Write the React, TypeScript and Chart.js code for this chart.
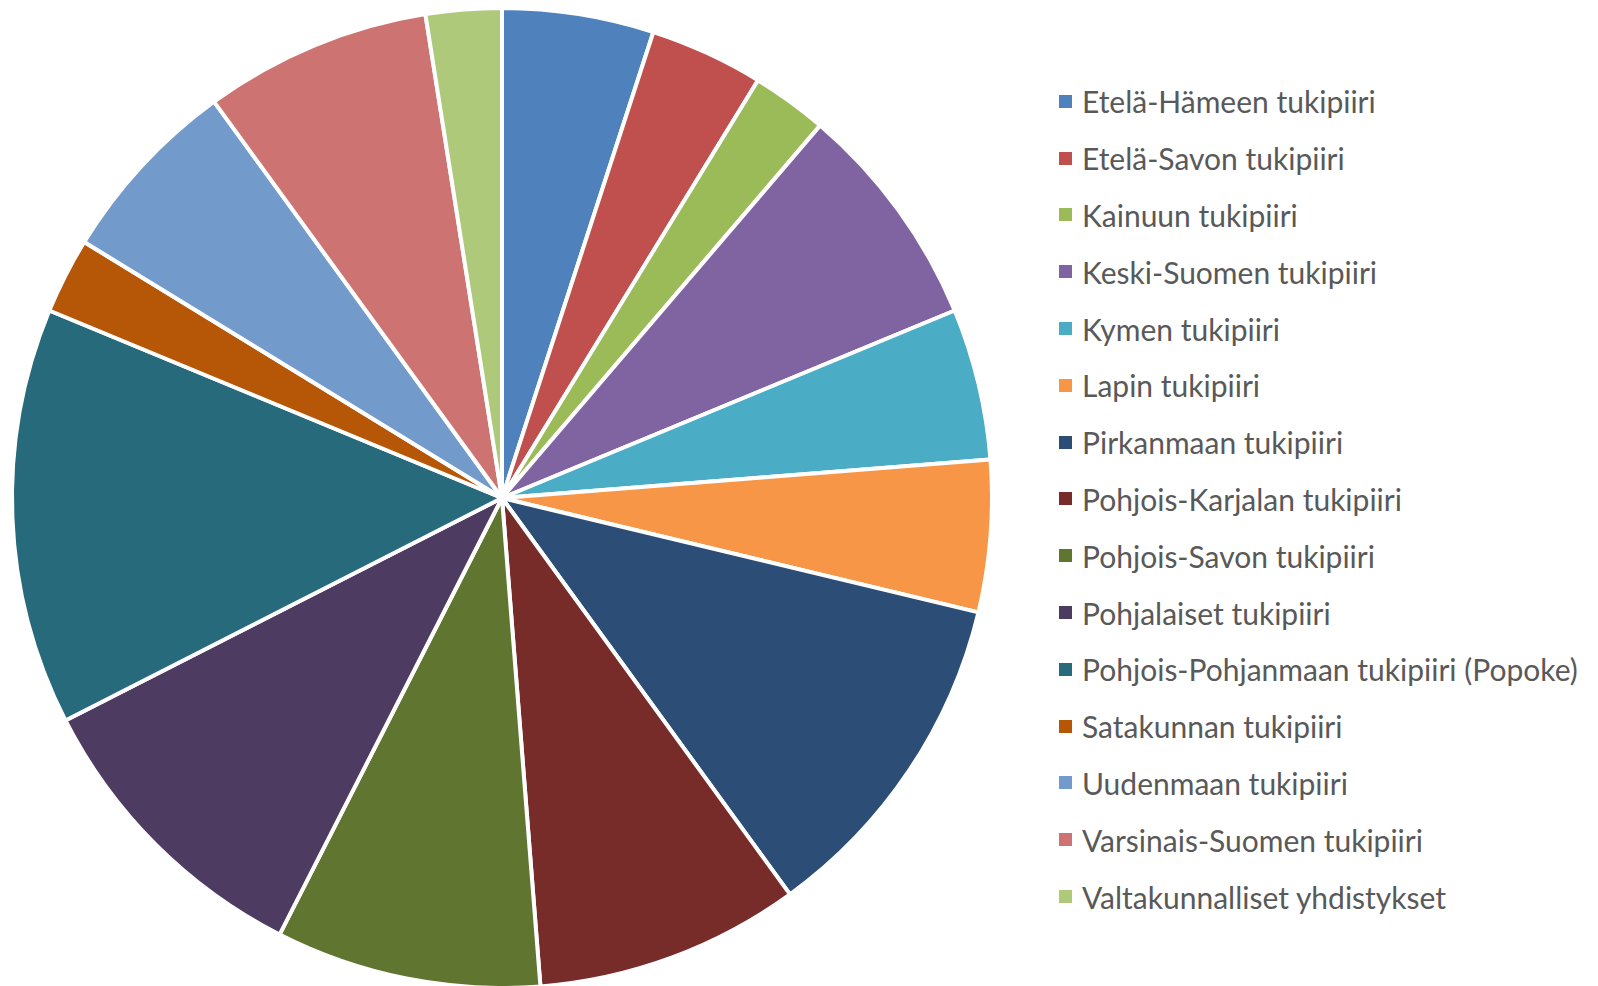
import React, { useEffect, useRef } from "react";
import { Chart, registerables } from "chart.js";

Chart.register(...registerables);

const categories: string[] = [
  "Etelä-Hämeen tukipiiri",
  "Etelä-Savon tukipiiri",
  "Kainuun tukipiiri",
  "Keski-Suomen tukipiiri",
  "Kymen tukipiiri",
  "Lapin tukipiiri",
  "Pirkanmaan tukipiiri",
  "Pohjois-Karjalan tukipiiri",
  "Pohjois-Savon tukipiiri",
  "Pohjalaiset tukipiiri",
  "Pohjois-Pohjanmaan tukipiiri (Popoke)",
  "Satakunnan tukipiiri",
  "Uudenmaan tukipiiri",
  "Varsinais-Suomen tukipiiri",
  "Valtakunnalliset yhdistykset",
];

const values: number[] = [4, 3, 2, 6, 4, 4, 9, 7, 7, 8, 11, 2, 5, 6, 2];

const colors: string[] = [
  "#4F81BD",
  "#C0504D",
  "#9BBB59",
  "#8064A2",
  "#4BACC6",
  "#F79646",
  "#2C4D75",
  "#772C2A",
  "#5F7530",
  "#4D3B62",
  "#276A7C",
  "#B65708",
  "#729ACA",
  "#CD7371",
  "#AFC97A",
];

export default function App() {
  const canvasRef = useRef<HTMLCanvasElement | null>(null);

  useEffect(() => {
    document.body.style.margin = "0";
    const ctx = canvasRef.current;
    if (!ctx) return;
    const chart = new Chart(ctx, {
      type: "pie",
      data: {
        labels: categories,
        datasets: [
          {
            data: values,
            backgroundColor: colors,
            borderColor: "#FFFFFF",
            borderWidth: 4,
          },
        ],
      },
      options: {
        animation: false,
        responsive: false,
        maintainAspectRatio: false,
        radius: 490,
        layout: { padding: { top: 10, bottom: 0, left: 0, right: 0 } },
        plugins: {
          legend: { display: false },
          tooltip: { enabled: false },
        },
      },
    });
    return () => chart.destroy();
  }, []);

  return (
    <div style={{ position: "absolute", left: 0, top: 0, width: 1598, height: 986, background: "#fff" }}>
      <canvas
        ref={canvasRef}
        width={1004}
        height={986}
        style={{ position: "absolute", left: 0, top: 0, width: 1004, height: 986 }}
      />
      <div style={{ position: "absolute", left: 1059, top: 73 }}>
        {categories.map((c, i) => (
          <div
            key={c}
            style={{
              height: 56.8,
              display: "flex",
              alignItems: "center",
              fontFamily: "Lato, sans-serif",
              fontSize: 30,
              color: "#595959",
              whiteSpace: "nowrap",
            }}
          >
            <span
              style={{
                display: "inline-block",
                width: 13,
                height: 13,
                background: colors[i],
                marginRight: 10,
              }}
            />
            <span>{c}</span>
          </div>
        ))}
      </div>
    </div>
  );
}
